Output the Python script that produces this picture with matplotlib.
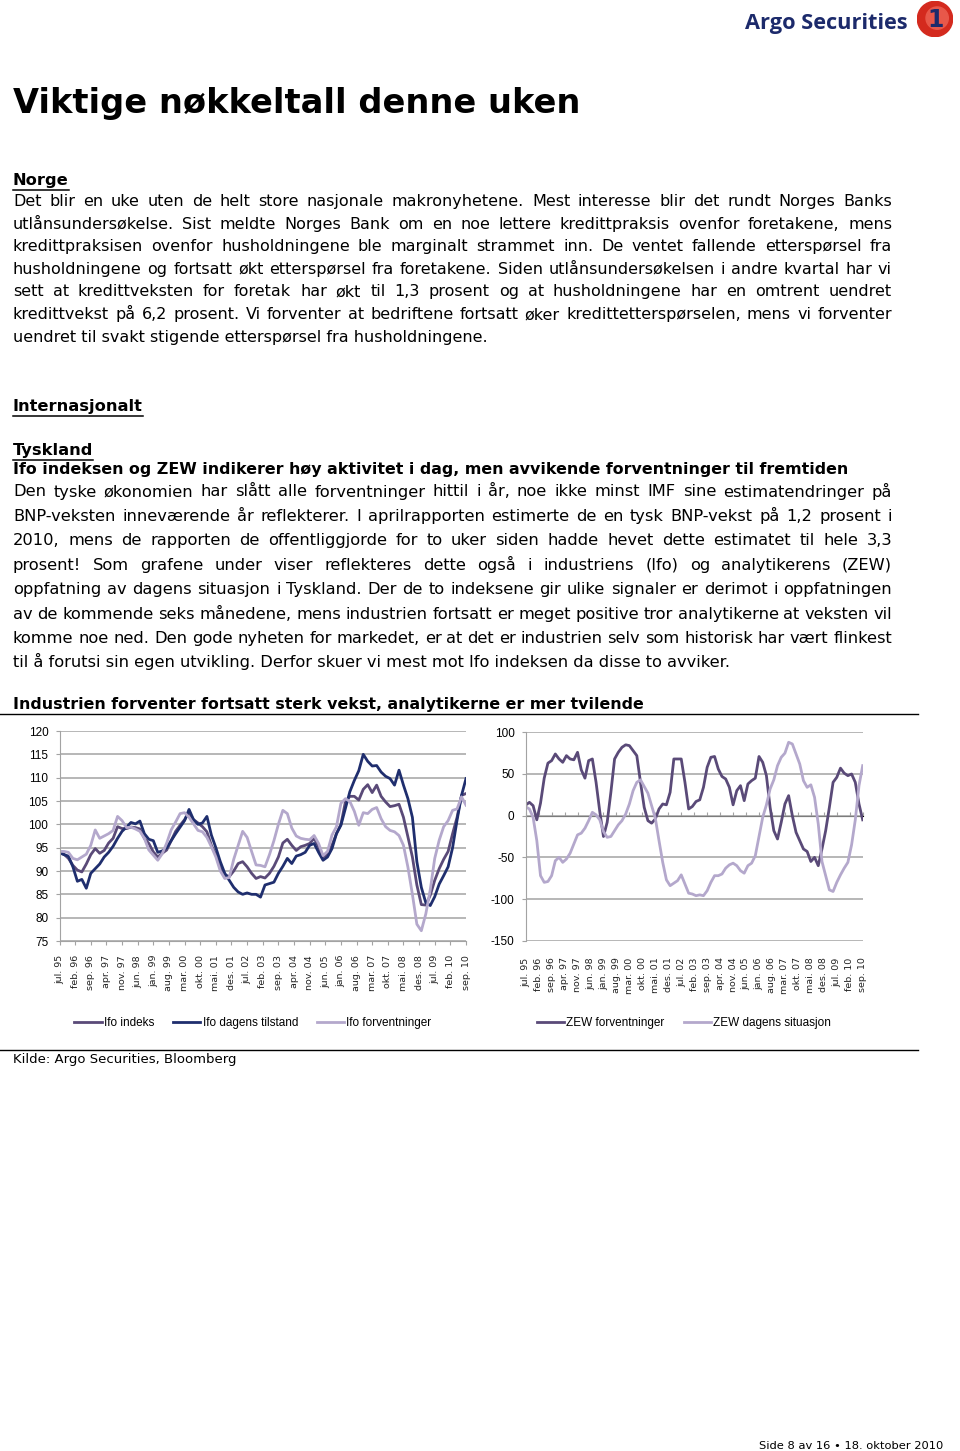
import matplotlib
matplotlib.use('Agg')
import matplotlib.pyplot as plt
from matplotlib.lines import Line2D
from matplotlib.patches import Circle

plt.rcParams['font.family'] = ['DejaVu Sans']
plt.rcParams['axes.unicode_minus'] = False
NARROW = ['Liberation Sans Narrow', 'Liberation Sans', 'DejaVu Sans']

W, H = 960, 1451

# === data (every second month, jul. 95 - sep. 10) ===
tick_labels = ['jul. 95', 'feb. 96', 'sep. 96', 'apr. 97', 'nov. 97', 'jun. 98', 'jan. 99',
               'aug. 99', 'mar. 00', 'okt. 00', 'mai. 01', 'des. 01', 'jul. 02', 'feb. 03',
               'sep. 03', 'apr. 04', 'nov. 04', 'jun. 05', 'jan. 06', 'aug. 06', 'mar. 07',
               'okt. 07', 'mai. 08', 'des. 08', 'jul. 09', 'feb. 10', 'sep. 10']
months = list(range(0, 183, 2))

ifo_indeks = [93.9, 93.6, 92.7, 91.2, 90.2, 89.8, 91.5, 93.5, 94.8, 93.8,
              94.4, 96.0, 97.0, 99.5, 99.1, 99.1, 99.4, 99.3, 99.0, 97.0,
              95.9, 94.1, 93.0, 93.8, 94.5, 96.5, 98.5, 99.8, 101.0, 102.5,
              101.0, 100.3, 99.5, 98.4, 95.5, 93.5, 90.6, 89.2, 88.8, 90.0,
              91.6, 92.0, 90.9, 89.5, 88.4, 88.8, 88.5, 89.5, 91.0, 93.0,
              96.0, 96.8, 95.5, 94.4, 95.2, 95.5, 95.9, 97.0, 95.2, 93.0,
              93.5, 95.5, 98.0, 100.0, 104.8, 106.0, 106.0, 105.2, 107.5, 108.5,
              106.8, 108.4, 106.0, 104.8, 103.8, 104.0, 104.3, 101.5, 97.3, 93.0,
              87.0, 82.8, 82.7, 84.8, 88.0, 90.5, 92.5, 94.2, 98.0, 101.5,
              106.2, 106.6]

ifo_dagens = [93.9, 93.5, 93.2, 90.9, 87.8, 88.2, 86.3, 89.5, 90.5, 91.5,
              93.0, 94.0, 95.3, 97.0, 98.5, 99.4, 100.4, 100.1, 100.7, 98.0,
              96.8, 96.5, 94.0, 94.3, 95.0, 96.5, 98.0, 99.4, 100.8, 103.2,
              101.0, 100.0, 100.3, 101.7, 97.7, 95.0, 92.0, 89.5, 88.0, 86.5,
              85.5, 85.0, 85.3, 85.0, 85.0, 84.4, 87.0, 87.3, 87.6, 89.5,
              91.0, 92.7, 91.6, 93.2, 93.5, 94.0, 95.5, 95.9, 94.0, 92.3,
              93.0, 94.8, 98.0, 99.8, 103.4, 107.0, 109.4, 111.5, 115.0, 113.5,
              112.5, 112.6, 111.2, 110.3, 109.8, 108.4, 111.6, 108.4, 105.5, 101.5,
              92.0, 86.5, 83.2, 82.6, 84.5, 87.2, 89.0, 90.9, 95.0, 100.9,
              106.2, 109.8]

ifo_forv = [94.2, 94.2, 94.0, 92.7, 92.4, 93.0, 93.6, 95.5, 98.8, 97.0,
            97.5, 98.0, 98.7, 101.7, 100.8, 99.3, 99.4, 99.0, 98.5, 97.0,
            94.5, 93.4, 92.3, 93.7, 96.0, 98.8, 100.5, 102.3, 102.5, 101.5,
            100.1, 98.7, 98.4, 97.2, 95.2, 93.0, 90.0, 88.4, 88.6, 92.5,
            95.5, 98.5, 97.2, 94.2, 91.3, 91.2, 90.9, 93.5, 96.5, 100.0,
            103.0, 102.3, 99.2, 97.5, 97.0, 96.8, 96.7, 97.6, 95.9, 93.3,
            94.2, 97.7, 99.5, 104.5, 105.5, 104.9, 102.8, 99.8, 102.5, 102.3,
            103.2, 103.6, 101.2, 99.5, 98.7, 98.4, 97.6, 95.5, 90.8, 85.0,
            78.6, 77.2, 80.8, 86.0, 92.7, 96.6, 99.5, 100.8, 103.0, 103.3,
            105.9, 104.1]

zew_forv = [12.7, 16, 12, -5, 15, 45, 63, 66, 74, 68,
            64, 72, 68, 67, 76, 55, 45, 66, 68, 40,
            5, -25, -8, 28, 68, 76, 82, 85, 84, 78,
            72, 40, 10, -6, -9, -4, 8, 14, 13, 28,
            68, 68, 68, 40, 8, 11, 17, 19, 34, 58,
            70, 71, 56, 47, 44, 34, 13, 30, 36, 18,
            38, 42, 45, 71, 64, 48, 10, -18, -28, -8,
            14, 24, 0, -20, -30, -40, -43, -55, -50, -60,
            -40, -18, 10, 40, 46, 57, 51, 48, 50, 40,
            14, -5]

zew_sit = [10.7, 8, -2, -30, -72, -80, -79, -72, -54, -50,
           -56, -52, -45, -34, -23, -21, -15, -6, 4, 1,
           -5, -19, -26, -25, -18, -11, -6, 2, 14, 30,
           40, 43, 35, 27, 12, -3, -30, -56, -77, -84,
           -81, -78, -71, -82, -93, -94, -96, -95, -96, -90,
           -80, -72, -72, -70, -63, -59, -57, -60, -66, -69,
           -60, -57, -48, -25, -2, 13, 32, 43, 60, 70,
           75, 88, 86, 74, 62, 42, 34, 37, 22, -10,
           -55, -72, -89, -91, -80, -71, -63, -56, -35, -5,
           36, 60]

norge_lines = [
    "Det blir en uke uten de helt store nasjonale makronyhetene. Mest interesse blir det rundt Norges Banks",
    "utlånsundersøkelse. Sist meldte Norges Bank om en noe lettere kredittpraksis ovenfor foretakene, mens",
    "kredittpraksisen ovenfor husholdningene ble marginalt strammet inn. De ventet fallende etterspørsel fra",
    "husholdningene og fortsatt økt etterspørsel fra foretakene. Siden utlånsundersøkelsen i andre kvartal har vi",
    "sett at kredittveksten for foretak har økt til 1,3 prosent og at husholdningene har en omtrent uendret",
    "kredittvekst på 6,2 prosent. Vi forventer at bedriftene fortsatt øker kredittetterspørselen, mens vi forventer",
    "uendret til svakt stigende etterspørsel fra husholdningene.",
]
tysk_lines = [
    "Den tyske økonomien har slått alle forventninger hittil i år, noe ikke minst IMF sine estimatendringer på",
    "BNP-veksten inneværende år reflekterer. I aprilrapporten estimerte de en tysk BNP-vekst på 1,2 prosent i",
    "2010, mens de rapporten de offentliggjorde for to uker siden hadde hevet dette estimatet til hele 3,3",
    "prosent! Som grafene under viser reflekteres dette også i industriens (Ifo) og analytikerens (ZEW)",
    "oppfatning av dagens situasjon i Tyskland. Der de to indeksene gir ulike signaler er derimot i oppfatningen",
    "av de kommende seks månedene, mens industrien fortsatt er meget positive tror analytikerne at veksten vil",
    "komme noe ned. Den gode nyheten for markedet, er at det er industrien selv som historisk har vært flinkest",
    "til å forutsi sin egen utvikling. Derfor skuer vi mest mot Ifo indeksen da disse to avviker.",
]

NAVY = '#1f2e6e'
PURPLE = '#5a4a78'
LIGHT = '#b4a8cc'
GRID = '#a3a3a3'

fig = plt.figure(figsize=(W / 100, H / 100), dpi=100)
r = fig.canvas.get_renderer()


def fx(px):
    return px / W


def fy(py):
    return 1 - py / H


def width_px(t):
    return t.get_window_extent(renderer=r).width


def fit_size(s, target, **kw):
    t = fig.text(0, 0, s, fontsize=10, **kw)
    w = width_px(t)
    t.remove()
    return 10 * target / w


def justify(s, x0, x1, base, size):
    words = s.split()
    arts = [fig.text(0, fy(base), w, fontsize=size, va='baseline') for w in words]
    widths = [width_px(a) for a in arts]
    gap = (x1 - x0 - sum(widths)) / (len(words) - 1)
    x = x0
    for a, wd in zip(arts, widths):
        a.set_x(fx(x))
        x += wd + gap


def heading(s, base, size, underline=True):
    t = fig.text(fx(13), fy(base), s, fontsize=size, fontweight='bold', va='baseline')
    if underline:
        w = width_px(t)
        fig.add_artist(Line2D([fx(13), fx(13 + w)], [fy(base + 4.5)] * 2,
                              color='black', lw=1.1))


def hline(py, x0=0, x1=918, lw=1.0):
    fig.add_artist(Line2D([fx(x0), fx(x1)], [fy(py)] * 2, color='black', lw=lw))


# === logo ===
s_logo = fit_size('Argo Securities', 163, family='Open Sans', fontweight='bold')
fig.text(fx(745), fy(29), 'Argo Securities', fontsize=s_logo, family='Open Sans',
         fontweight='bold', color='#1c2a6b', va='baseline')
lax = fig.add_axes([fx(917), fy(37), 36 / W, 36 / H])
lax.set_xlim(-1, 1)
lax.set_ylim(-1, 1)
lax.set_aspect('equal')
lax.axis('off')
lax.add_patch(Circle((0, 0), 0.98, color='#d42a1e'))
lax.add_patch(Circle((0.12, 0.05), 0.62, color='#e8584a'))
lax.text(0.05, -0.05, '1', color='#1c2a6b', fontsize=17, fontweight='bold',
         ha='center', va='center')

# === titles and text ===
s_title = fit_size('Viktige nøkkeltall denne uken', 565, fontweight='bold')
fig.text(fx(13), fy(113), 'Viktige nøkkeltall denne uken', fontsize=s_title,
         fontweight='bold', va='baseline')

s_p1 = fit_size(norge_lines[-1], 471)
s_p2 = fit_size(tysk_lines[-1], 714)
s_head = fit_size('Internasjonalt', 129, fontweight='bold')

heading('Norge', 185, s_head)
for i, line in enumerate(norge_lines):
    base = 206 + i * 22.6
    if i < len(norge_lines) - 1:
        justify(line, 13, 892, base, s_p1)
    else:
        fig.text(fx(13), fy(base), line, fontsize=s_p1, va='baseline')

heading('Internasjonalt', 411, s_head)
heading('Tyskland', 455, s_head)
s_sub = fit_size('Ifo indeksen og ZEW indikerer høy aktivitet i dag, men avvikende forventninger til fremtiden',
                 832, fontweight='bold')
heading('Ifo indeksen og ZEW indikerer høy aktivitet i dag, men avvikende forventninger til fremtiden',
        474, s_sub, underline=False)
for i, line in enumerate(tysk_lines):
    base = 496.5 + i * 24.4
    if i < len(tysk_lines) - 1:
        justify(line, 13, 892, base, s_p2)
    else:
        fig.text(fx(13), fy(base), line, fontsize=s_p2, va='baseline')

s_ct = fit_size('Industrien forventer fortsatt sterk vekst, analytikerne er mer tvilende', 628,
                fontweight='bold')
heading('Industrien forventer fortsatt sterk vekst, analytikerne er mer tvilende', 709, s_ct,
        underline=False)
hline(713.5)
hline(1049.5)

s_k = fit_size('Kilde: Argo Securities, Bloomberg', 223)
fig.text(fx(13), fy(1063), 'Kilde: Argo Securities, Bloomberg', fontsize=s_k, va='baseline')
s_f = fit_size('Side 8 av 16 \u2022 18. oktober 2010', 184)
fig.text(fx(759), fy(1449), 'Side 8 av 16 \u2022 18. oktober 2010', fontsize=s_f, va='baseline')


# === charts ===
def style_axes(ax, yticks):
    ax.set_xlim(0, 182)
    ax.set_yticks(yticks)
    ax.yaxis.grid(True, color=GRID, lw=1.1)
    ax.set_axisbelow(True)
    for s in ['top', 'right']:
        ax.spines[s].set_visible(False)
    ax.spines['left'].set_color(GRID)
    ax.spines['bottom'].set_color(GRID)
    ax.tick_params(axis='y', length=3, color=GRID, pad=5, labelsize=8.5)
    for lab in ax.get_yticklabels():
        lab.set_family(NARROW)
    ax.set_xticks(range(0, 183, 7))
    ax.set_xticklabels(tick_labels, rotation=90, fontsize=6.8, color='#222222')


ax1 = fig.add_axes([fx(59.5), fy(941), (466 - 59.5) / W, (941 - 731) / H])
l1, = ax1.plot(months, ifo_indeks, color=PURPLE, lw=2.0, label='Ifo indeks')
l2, = ax1.plot(months, ifo_dagens, color=NAVY, lw=2.0, label='Ifo dagens tilstand')
l3, = ax1.plot(months, ifo_forv, color=LIGHT, lw=2.0, label='Ifo forventninger')
ax1.set_ylim(75, 120)
style_axes(ax1, range(75, 121, 5))
ax1.tick_params(axis='x', length=3, color=GRID, pad=7)

ax2 = fig.add_axes([fx(525.7), fy(940.7), (862.7 - 525.7) / W, (940.7 - 732.3) / H])
l4, = ax2.plot(months, zew_forv, color=PURPLE, lw=2.0, label='ZEW forventninger')
l5, = ax2.plot(months, zew_sit, color=LIGHT, lw=2.0, label='ZEW dagens situasjon')
ax2.set_ylim(-150, 100)
style_axes(ax2, range(-150, 101, 50))
ax2.spines['bottom'].set_visible(False)
ax2.tick_params(axis='x', length=0, pad=12)
sec = ax2.secondary_xaxis(0.6)
sec.set_xticks(range(0, 183, 7))
sec.set_xticklabels([])
sec.spines['bottom'].set_color(GRID)
sec.tick_params(length=3, color=GRID)

leg_prop = {'family': NARROW, 'size': 8.5}
fig.legend(handles=[l1, l2, l3], loc='center', bbox_to_anchor=(fx(253), fy(1023)),
           ncol=3, frameon=False, prop=leg_prop, handlelength=2.3, columnspacing=1.6,
           handletextpad=0.2)
fig.legend(handles=[l4, l5], loc='center', bbox_to_anchor=(fx(684), fy(1023)),
           ncol=2, frameon=False, prop=leg_prop, handlelength=2.3, columnspacing=1.6,
           handletextpad=0.2)

fig.savefig('out.png', dpi=100)
